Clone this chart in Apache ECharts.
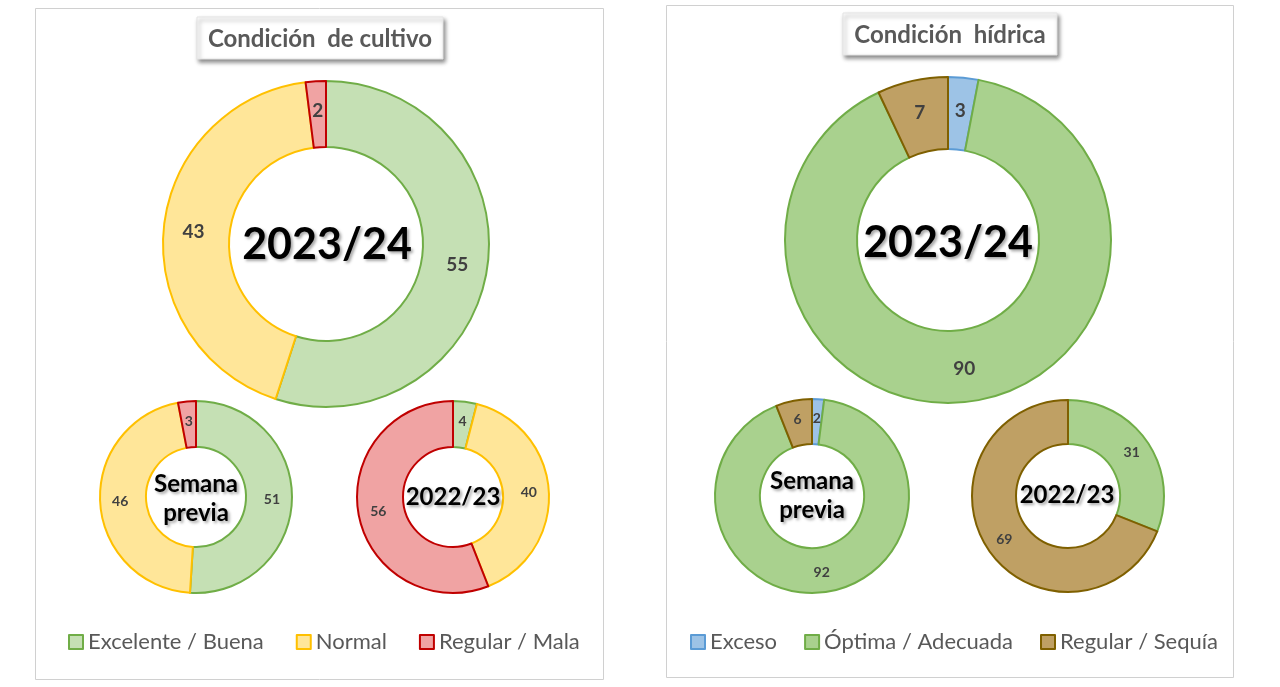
<!DOCTYPE html>
<html><head><meta charset="utf-8">
<script src="https://cdn.jsdelivr.net/npm/echarts@6/dist/echarts.min.js"></script>
<style>html,body{margin:0;padding:0;background:#fff}#c{width:1280px;height:687px}</style>
</head><body><div id="c"></div>
<script>
// ---- data ----
const cultivoCats = ['Excelente / Buena', 'Normal', 'Regular / Mala'];
const cultivo2324 = [55, 43, 2];
const cultivoPrev = [51, 46, 3];
const cultivo2223 = [4, 40, 56];
const hidricaCats = ['Exceso', 'Óptima / Adecuada', 'Regular / Sequía'];
const hidrica2324 = [3, 90, 7];
const hidricaPrev = [2, 92, 6];
const hidrica2223 = [0, 31, 69];
const titles = ['Condición  de cultivo', 'Condición  hídrica'];
const centerTexts = ['2023/24', 'Semana\nprevia', '2022/23'];

// ---- styles ----
const FONT = 'Lato, "Open Sans", sans-serif';
const cultivoStyles = [
  {color: '#c5e0b4', borderColor: '#70ad47'},
  {color: '#ffe699', borderColor: '#ffc000'},
  {color: '#f0a3a3', borderColor: '#c00000'}
];
const hidricaStyles = [
  {color: '#9dc3e6', borderColor: '#5b9bd5'},
  {color: '#a9d18e', borderColor: '#70ad47'},
  {color: '#bfa064', borderColor: '#7f6000'}
];

function mkData(cats, vals, styles) {
  return cats.map((n, i) => ({
    name: n, value: vals[i],
    itemStyle: {color: styles[i].color, borderColor: styles[i].borderColor, borderWidth: 2},
    label: {show: vals[i] > 0}
  }));
}
function pie(cx, cy, r0, r1, cats, vals, styles, fs) {
  return {
    type: 'pie', center: [cx, cy], radius: [r0, r1], startAngle: 90, clockwise: true,
    avoidLabelOverlap: false, silent: true,
    label: {show: true, position: 'inside', formatter: '{c}', color: '#404040',
            fontWeight: 'bold', fontSize: fs, fontFamily: FONT},
    labelLine: {show: false},
    data: mkData(cats, vals, styles)
  };
}
function centerText(x, y, txt, fs, lh) {
  return {type: 'text', x: x, y: y, z: 100,
    style: {text: txt, x: 0, y: 0, align: 'center', verticalAlign: 'middle',
      font: 'bold ' + fs + 'px ' + FONT, fill: '#000', lineHeight: lh,
      textShadowColor: 'rgba(0,0,0,0.35)', textShadowBlur: 3, textShadowOffsetX: 2, textShadowOffsetY: 2}};
}
function titleBox(x, y, w, h, txt) {
  return [
    {type: 'rect', shape: {x: x, y: y, width: w, height: h}, z: 50,
      style: {fill: '#fff', stroke: '#e4e4e4', lineWidth: 1, shadowBlur: 4, shadowOffsetX: 2, shadowOffsetY: 3, shadowColor: 'rgba(0,0,0,0.45)'}},
    {type: 'text', x: x + w / 2, y: y + h / 2 + 1, z: 51,
      style: {text: txt, align: 'center', verticalAlign: 'middle', font: 'bold 24px ' + FONT, fill: '#595959'}}
  ];
}

const chart = echarts.init(document.getElementById('c'), null, {renderer: 'canvas'});
chart.setOption({
  animation: false,
  backgroundColor: '#fff',
  legend: [
    {data: cultivoCats, left: 63, top: 626, itemWidth: 14, itemHeight: 14, itemGap: 32,
      icon: 'rect', textStyle: {fontSize: 22, color: '#595959', fontFamily: FONT}},
    {data: hidricaCats, left: 685, top: 626, itemWidth: 14, itemHeight: 14, itemGap: 27,
      icon: 'rect', textStyle: {fontSize: 22, color: '#595959', fontFamily: FONT}}
  ],
  graphic: [
    {type: 'rect', shape: {x: 35.5, y: 8.5, width: 568, height: 671}, style: {fill: 'none', stroke: '#d0d0d0', lineWidth: 1}},
    {type: 'rect', shape: {x: 666.5, y: 5.5, width: 567, height: 672}, style: {fill: 'none', stroke: '#d0d0d0', lineWidth: 1}},
    ...titleBox(197, 17, 246, 42, titles[0]),
    ...titleBox(843, 13, 214, 42, titles[1]),
    centerText(327, 245, centerTexts[0], 43, 50),
    centerText(196, 499, centerTexts[1], 24, 29),
    centerText(453, 497, centerTexts[2], 24, 29),
    centerText(948, 243, centerTexts[0], 43, 50),
    centerText(812, 496, centerTexts[1], 24, 29),
    centerText(1067, 495, centerTexts[2], 24, 29)
  ],
  series: [
    pie(326, 244, 97, 163, cultivoCats, cultivo2324, cultivoStyles, 19),
    pie(196, 497, 50, 96, cultivoCats, cultivoPrev, cultivoStyles, 14),
    pie(453, 497, 50, 96, cultivoCats, cultivo2223, cultivoStyles, 14),
    pie(948, 240, 91, 163, hidricaCats, hidrica2324, hidricaStyles, 19),
    pie(812, 496, 52, 97, hidricaCats, hidricaPrev, hidricaStyles, 14),
    pie(1068, 496, 52, 96, hidricaCats, hidrica2223, hidricaStyles, 14)
  ]
});
</script></body></html>
